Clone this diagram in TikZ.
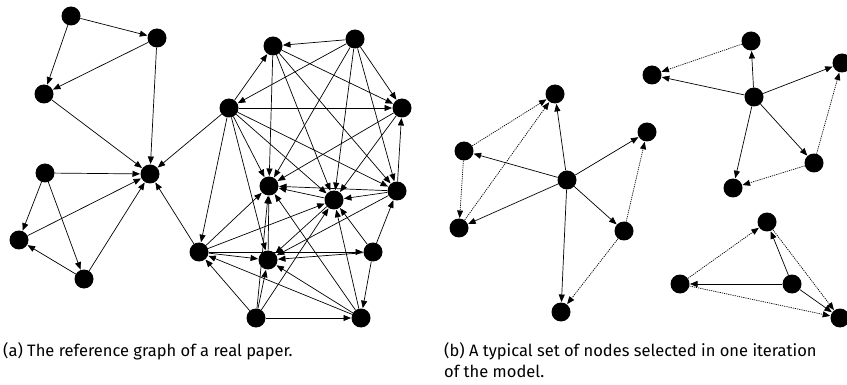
\documentclass[tikz,border=0pt]{standalone}
\usepackage{fontspec}
\setmainfont{Fira Sans}
\usetikzlibrary{arrows.meta}
\begin{document}
\begin{tikzpicture}[x=1pt,y=-1pt,
  vtx/.style={circle, fill=black, minimum size=19pt, inner sep=0pt},
  edg/.style={-{Triangle[length=7.5pt,width=6pt]}, line width=0.7pt, shorten >=0.3pt},
  dot/.style={edg, dash pattern=on 1.2pt off 1pt},
  captxt/.style={font=\fontsize{16.5}{20}\selectfont, anchor=base west, inner sep=0pt}]
\useasboundingbox (0,0) rectangle (847,385);
% left graph
\foreach \n/\x/\y in {A1/71/16, A2/157/38, A3/44/94, H/150/174, B1/45/173, B2/19/240, B3/84/279,
  N1/273/46, N2/355/39, N3/229/108, N4/402/108, N5/269/186, N6/334/200, N7/397/191,
  N8/199/252, N9/268/260, N10/373/252, N11/256/318, N12/361/318,
  C/567/180, P1/555/94, P2/464/151, P3/459/228, P4/647/132, P5/624/231, P6/561/312,
  D/754/97, Q1/751/41, Q2/652/75, Q3/842/63, Q4/814/163, Q5/733/188,
  R1/767/222, R2/680/284, R3/792/284, R4/840/318}
  \node[vtx] (\n) at (\x,\y) {};
\foreach \a/\b in {A1/A2, A1/A3, A2/A3, A2/H, A3/H, B1/H, B1/B2, B1/B3, B2/H, B3/H, B3/B2, N3/H, N8/H,
  N2/N1, N3/N1, N2/N3, N3/N4, N1/N4, N2/N4, N1/N5, N1/N6, N1/N7, N2/N5, N2/N6, N2/N7,
  N3/N8, N3/N5, N3/N9, N3/N6, N3/N7, N4/N5, N4/N6, N7/N4, N7/N5, N7/N6, N7/N9,
  N6/N5, N6/N9, N8/N5, N8/N6, N8/N10, N8/N9, N9/N5, N10/N9, N10/N6, N10/N7, N10/N12,
  N11/N8, N11/N5, N11/N9, N11/N6, N11/N12, N12/N8, N12/N9, N12/N5, N12/N6,
  C/P1, C/P2, C/P3, C/P4, C/P5, C/P6, D/Q1, D/Q2, D/Q3, D/Q4, D/Q5, R3/R1, R3/R2, R3/R4}
  \draw[edg] (\a) -- (\b);
\foreach \a/\b in {P2/P1, P3/P1, P2/P3, P5/P4, P5/P6, Q1/Q2, Q4/Q3, Q4/Q5, R2/R1, R2/R4, R1/R4}
  \draw[dot] (\a) -- (\b);
\node[captxt] (ca) at (3,356) {(a) The reference graph of a real paper.};
\node[captxt] (cb) at (444,356) {(b) A typical set of nodes selected in one iteration};
\node[captxt] (cc) at (444,377) {of the model.};
\end{tikzpicture}
\end{document}
